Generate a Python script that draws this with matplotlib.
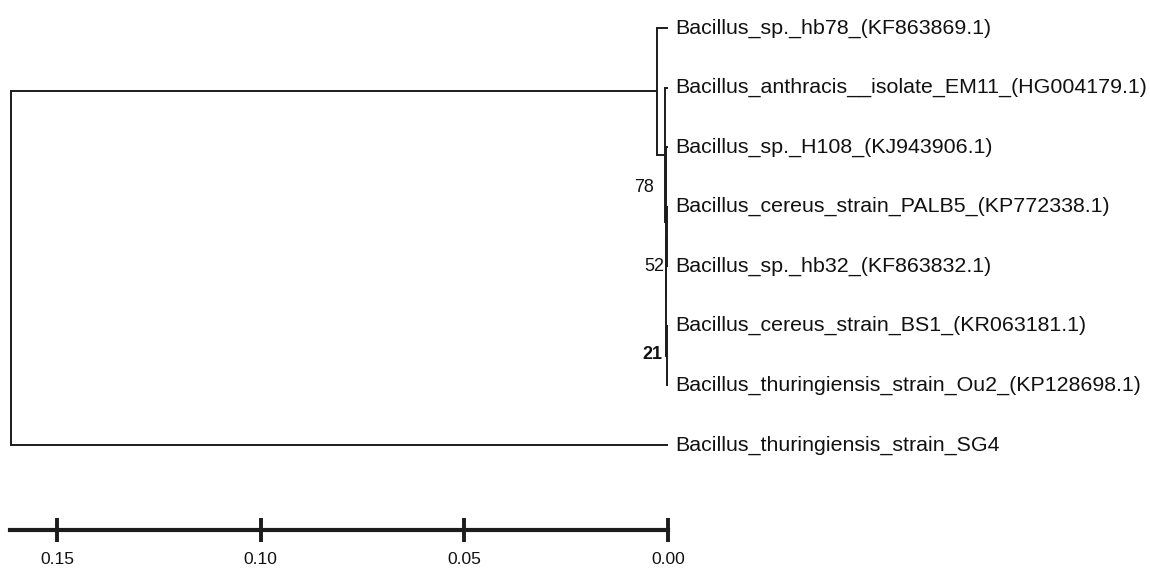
import matplotlib
import matplotlib.pyplot as plt

matplotlib.use('Agg')

# Leaves, top to bottom
LEAVES = [
    "Bacillus_sp._hb78_(KF863869.1)",
    "Bacillus_anthracis__isolate_EM11_(HG004179.1)",
    "Bacillus_sp._H108_(KJ943906.1)",
    "Bacillus_cereus_strain_PALB5_(KP772338.1)",
    "Bacillus_sp._hb32_(KF863832.1)",
    "Bacillus_cereus_strain_BS1_(KR063181.1)",
    "Bacillus_thuringiensis_strain_Ou2_(KP128698.1)",
    "Bacillus_thuringiensis_strain_SG4",
]

# Internal nodes (UPGMA-style heights); children are leaf indices or node ids
NODE_IDS = ["pb", "n21", "d", "c", "b", "a", "root"]
NODE_HEIGHTS = [0.0002, 0.0002, 0.0005, 0.0006, 0.0007, 0.0026, 0.1613]
NODE_CHILDREN = [(3, 4), (5, 6), ("pb", "n21"), (2, "d"), (1, "c"), (0, "b"), ("a", 7)]

# Bootstrap values as printed on the figure
BOOT_TEXT = ["78", "52", "21"]
BOOT_Y = [2.68, 4.0, 5.48]
BOOT_BOLD = [False, False, True]
BOOT_DX = [-10, -3, -4]  # points left of the tip line

SCALE_TICKS = [0.15, 0.10, 0.05, 0.00]

LINE_COLOR = "#1c1c1c"
FONT = "Liberation Sans"


def main() -> None:
    fig = plt.figure(figsize=(11.5, 5.68), dpi=100)
    ax = fig.add_axes([0, 0, 1, 1])

    heights = dict(zip(NODE_IDS, NODE_HEIGHTS))
    children = dict(zip(NODE_IDS, NODE_CHILDREN))

    def height_of(n):
        return 0.0 if isinstance(n, int) else heights[n]

    def y_of(n):
        if isinstance(n, int):
            return float(n)
        c1, c2 = children[n]
        return (y_of(c1) + y_of(c2)) / 2

    lw = 1.4
    for nid in NODE_IDS:
        h = heights[nid]
        c1, c2 = children[nid]
        ax.plot([h, h], [y_of(c1), y_of(c2)], color=LINE_COLOR, lw=lw,
                solid_capstyle='projecting')
        for c in (c1, c2):
            ax.plot([h, height_of(c)], [y_of(c), y_of(c)], color=LINE_COLOR,
                    lw=lw, solid_capstyle='butt')

    for i, name in enumerate(LEAVES):
        ax.annotate(name, xy=(0, i), xytext=(5.5, 0), textcoords='offset points',
                    ha='left', va='center', fontsize=15.4, family=FONT,
                    color="#111111")

    for txt, y, bold, dx in zip(BOOT_TEXT, BOOT_Y, BOOT_BOLD, BOOT_DX):
        ax.annotate(txt, xy=(0, y), xytext=(dx, 0), textcoords='offset points',
                    ha='right', va='center', fontsize=13, family=FONT,
                    fontweight='bold' if bold else 'normal', color="#111111")

    # 0.00 at x=668px, 0.15 at x=57px; leaf 0 at y=28px, leaf 7 at y=445px
    ppu = (668 - 57) / 0.15
    ppl = (445 - 28) / 7
    scale_y = (530 - 28) / ppl

    # scale bar drawn with the bottom spine
    root_h = max(NODE_HEIGHTS)
    for side in ("top", "right", "left"):
        ax.spines[side].set_visible(False)
    ax.spines['bottom'].set_position(('data', scale_y))
    ax.spines['bottom'].set_bounds(0, root_h + 0.0003)
    ax.spines['bottom'].set_linewidth(3.0)
    ax.spines['bottom'].set_color(LINE_COLOR)
    ax.set_xticks(SCALE_TICKS)
    ax.set_xticklabels([f"{t:.2f}" for t in SCALE_TICKS], family=FONT, fontsize=12.5)
    ax.tick_params(axis='x', direction='inout', length=17.5, width=2.8,
                   color=LINE_COLOR, pad=7, labelcolor="#111111")
    ax.set_yticks([])

    ax.set_xlim(0.15 + 57 / ppu, -(1150 - 668) / ppu)
    ax.set_ylim((568 - 28) / ppl, -28 / ppl)

    fig.savefig("out.png", dpi=100)
    plt.close(fig)


if __name__ == "__main__":
    main()
